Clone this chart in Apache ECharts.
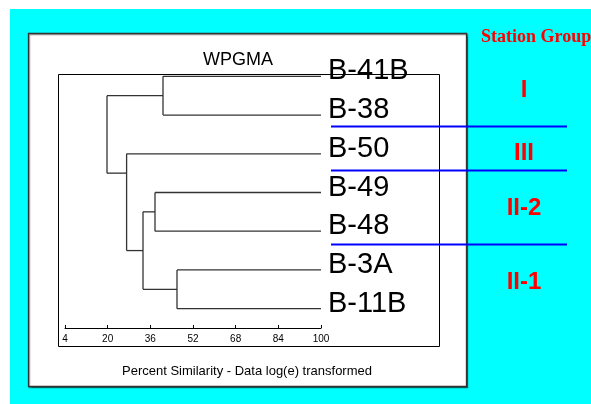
<!DOCTYPE html>
<html><head><meta charset="utf-8">
<script src="https://cdn.jsdelivr.net/npm/echarts@6/dist/echarts.min.js"></script>
<style>html,body{margin:0;padding:0;background:#fff}#c{width:591px;height:404px}</style>
</head><body><div id="c"></div><script>
// ---- data ----
const leafLabels = ['B-41B', 'B-38', 'B-50', 'B-49', 'B-48', 'B-3A', 'B-11B'];
// merges (in order): child A, child B, similarity level at which they join
const mergeA = ['L0', 'L3', 'L5', 'N1', 'L2', 'N0'];
const mergeB = ['L1', 'L4', 'L6', 'N2', 'N3', 'N4'];
const mergeSimilarity = [40.75, 37.75, 46, 33.25, 27.1, 19.75];
// vertical position (leaf-index units) at which each node attaches to its parent
const nodeAnchor = [0.5, 3.5, 5.5, 4.5, 2.5, null];
const xTicks = { min: 4, max: 100, interval: 16 };
// station groups: label, label centre (leaf-index units)
const groupNames = ['I', 'III', 'II-2', 'II-1'];
const groupCenters = [0.35, 1.98, 3.4, 5.31];
// group separators (leaf-index units)
const groupSeparators = [1.28, 2.42, 4.33];

// ---- build segments ----
function childPos(id) {
  const k = +id.slice(1);
  if (id[0] === 'L') return { y: k, x: 100 };
  return { y: nodeAnchor[k], x: mergeSimilarity[k] };
}
const segments = [];
mergeA.forEach((a, i) => {
  const A = childPos(a), B = childPos(mergeB[i]);
  const lv = mergeSimilarity[i];
  segments.push([lv, A.y, lv, B.y]);
  segments.push([A.x, A.y, lv, A.y]);
  segments.push([B.x, B.y, lv, B.y]);
});

const chart = echarts.init(document.getElementById('c'), null, { renderer: 'canvas' });
const W = 591, H = 404;
const FONT = '"Liberation Sans", Arial, sans-serif';
const option = {
  animation: false,
  backgroundColor: '#ffffff',
  textStyle: { fontFamily: FONT },
  grid: [
    { left: 65, right: W - 321, top: 57, height: 271, containLabel: false },
    { left: 65, right: W - 321, top: 52, height: 271, containLabel: false }
  ],
  xAxis: [{
    type: 'value', gridIndex: 0, min: xTicks.min, max: xTicks.max, interval: xTicks.interval, z: 10,
    axisLine: { show: true, onZero: false, lineStyle: { color: '#000', width: 1 } },
    axisTick: { show: true, inside: true, length: 3, lineStyle: { color: '#000' } },
    axisLabel: { color: '#000', fontSize: 10, margin: 6 },
    splitLine: { show: false },
    name: 'Percent Similarity - Data log(e) transformed',
    nameLocation: 'middle', nameGap: 37,
    nameTextStyle: { color: '#000', fontSize: 13, padding: [0, 0, 0, 108] }
  }, {
    type: 'value', gridIndex: 1, min: xTicks.min, max: xTicks.max, show: false
  }],
  yAxis: [
    { type: 'value', gridIndex: 0, min: -0.5, max: 6.5, inverse: true, show: false },
    {
      type: 'category', gridIndex: 1, data: leafLabels, inverse: true, position: 'right', z: 10,
      axisLine: { show: false }, axisTick: { show: false }, splitLine: { show: false },
      axisLabel: { color: '#000', fontSize: 29, margin: 7 }
    }
  ],
  title: {
    text: 'WPGMA', left: 233, top: 46, textAlign: 'center',
    textStyle: { fontSize: 18, fontWeight: 'normal', color: '#000', fontFamily: FONT }
  },
  graphic: [
    { type: 'rect', z: -5, shape: { x: 10, y: 9, width: W - 10, height: H - 9 }, style: { fill: '#00ffff' } },
    { type: 'rect', z: -4, shape: { x: 28.5, y: 33.5, width: 438, height: 353 }, style: { fill: '#fff', stroke: '#333', lineWidth: 1.3, shadowColor: 'rgba(0,0,0,0.4)', shadowOffsetX: 1, shadowOffsetY: 1, shadowBlur: 1 } },
    { type: 'rect', z: -3, shape: { x: 58.5, y: 74.5, width: 381, height: 272 }, style: { fill: 'none', stroke: '#000', lineWidth: 1 } },
    { type: 'text', z: 20, left: 481, top: 28, style: { text: 'Station Group', fill: '#ff0000', font: 'bold 18px "Liberation Serif", "Times New Roman", serif' } }
  ],
  series: [{
    type: 'custom', z: 10, xAxisIndex: 0, yAxisIndex: 0, clip: false,
    data: segments,
    renderItem: function (params, api) {
      const p1 = api.coord([api.value(0), api.value(1)]);
      const p2 = api.coord([api.value(2), api.value(3)]);
      return { type: 'line', shape: { x1: p1[0], y1: p1[1], x2: p2[0], y2: p2[1] }, style: { stroke: '#333', lineWidth: 1.3 } };
    }
  }]
};
chart.setOption(option);

// annotations placed via the axis scale
const extra = [];
groupSeparators.forEach(v => {
  const y = Math.round(chart.convertToPixel({ yAxisIndex: 0 }, v)) + 0.5;
  extra.push({ type: 'line', z: 20, shape: { x1: 331, y1: y, x2: 567, y2: y }, style: { stroke: '#0000ff', lineWidth: 2 } });
});
groupNames.forEach((t, i) => {
  const y = chart.convertToPixel({ yAxisIndex: 0 }, groupCenters[i]);
  extra.push({ type: 'text', z: 20, x: 524, y: y, style: { text: t, fill: '#ff0000', font: 'bold 24px "Liberation Sans", Arial, sans-serif', textAlign: 'center', textVerticalAlign: 'middle' } });
});
chart.setOption({ graphic: option.graphic.concat(extra) });
</script></body></html>
